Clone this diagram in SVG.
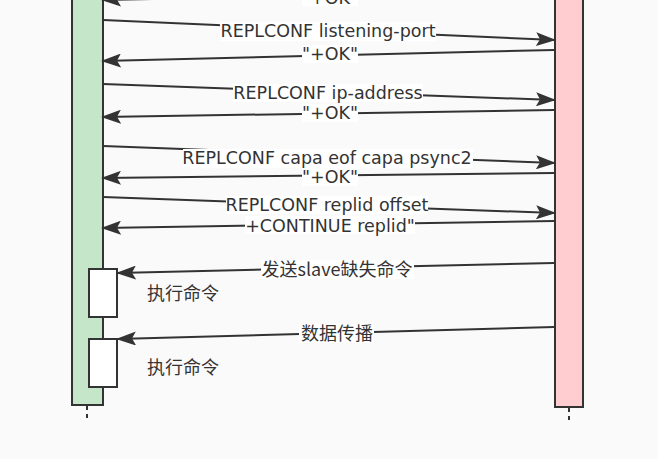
<svg xmlns="http://www.w3.org/2000/svg" width="658" height="459" viewBox="0 0 658 459">
<defs>
<marker id="ah" markerWidth="20" markerHeight="14" refX="19" refY="7" orient="auto" markerUnits="userSpaceOnUse">
<path d="M0,0 L20,7 L0,14 L4,7 Z" fill="#333"/>
</marker>
<style>
.bar{stroke:#333;stroke-width:2}
.box{fill:#fff;stroke:#333;stroke-width:2}
.msg{fill:none;stroke:#333;stroke-width:2;marker-end:url(#ah)}
.life{stroke:#333;stroke-width:2;stroke-dasharray:4 4}
.lbl{font-family:"DejaVu Sans","Noto Sans CJK SC",sans-serif;font-size:17.5px;fill:#333;text-anchor:middle}
.cjk{font-family:"Noto Sans CJK SC",sans-serif;font-size:18px;fill:#333;text-anchor:middle}
.note{font-family:"Noto Sans CJK SC",sans-serif;font-size:18px;fill:#333}
.bg{fill:#fff}
</style>
</defs>
<rect width="658" height="459" fill="#fafafa"/>
<g id="slave">
<line class="life" x1="87" y1="406" x2="87" y2="420"/>
<rect class="bar" x="72" y="-10" width="31" height="415" fill="#c5e6c8"/>
</g>
<g id="master">
<line class="life" x1="569" y1="408" x2="569" y2="424"/>
<rect class="bar" x="555" y="-10" width="28" height="417" fill="#ffccd0"/>
</g>
<g id="exec1">
<rect class="box" x="89" y="269" width="28" height="48"/>
<text class="note" x="147" y="300">执行命令</text>
</g>
<g id="exec2">
<rect class="box" x="89" y="339" width="28" height="48"/>
<text class="note" x="147" y="374">执行命令</text>
</g>
<g id="connectors">
<path class="msg" d="M554,-9 L102,0"/>
<path class="msg" d="M103,20 L555,40"/>
<path class="msg" d="M554,50 L102,61"/>
<path class="msg" d="M103,84 L555,100"/>
<path class="msg" d="M554,110 L102,117"/>
<path class="msg" d="M103,146 L555,163"/>
<path class="msg" d="M554,173 L102,178"/>
<path class="msg" d="M103,197 L555,213"/>
<path class="msg" d="M554,221 L102,228"/>
<path class="msg" d="M554,263 L117,273"/>
<path class="msg" d="M554,327 L117,339"/>
</g>
<g id="labels">
<rect class="bg" x="302" y="-12" width="56" height="18"/>
<text class="lbl" x="330" y="4">"+OK"</text>
<rect class="bg" x="220" y="22" width="216" height="19"/>
<text class="lbl" x="328" y="37">REPLCONF listening-port</text>
<rect class="bg" x="302" y="45" width="56" height="18"/>
<text class="lbl" x="330" y="60">"+OK"</text>
<rect class="bg" x="233" y="84" width="190" height="18"/>
<text class="lbl" x="328" y="99">REPLCONF ip-address</text>
<rect class="bg" x="183" y="149" width="290" height="19"/>
<text class="lbl" x="327" y="164">REPLCONF capa eof capa psync2</text>
<rect class="bg" x="302" y="104" width="56" height="18"/>
<text class="lbl" x="330" y="119">"+OK"</text>
<rect class="bg" x="302" y="168" width="56" height="18"/>
<text class="lbl" x="330" y="183">"+OK"</text>
<rect class="bg" x="226" y="196" width="202" height="18"/>
<text class="lbl" x="327" y="211">REPLCONF replid offset</text>
<rect class="bg" x="245" y="216" width="170" height="18"/>
<text class="lbl" x="330" y="232">+CONTINUE replid"</text>
<rect class="bg" x="261" y="260" width="153" height="19"/>
<text class="cjk" x="337" y="276">发送slave缺失命令</text>
<rect class="bg" x="299" y="324" width="75" height="19"/>
<text class="cjk" x="337" y="340">数据传播</text>
</g>
</svg>
